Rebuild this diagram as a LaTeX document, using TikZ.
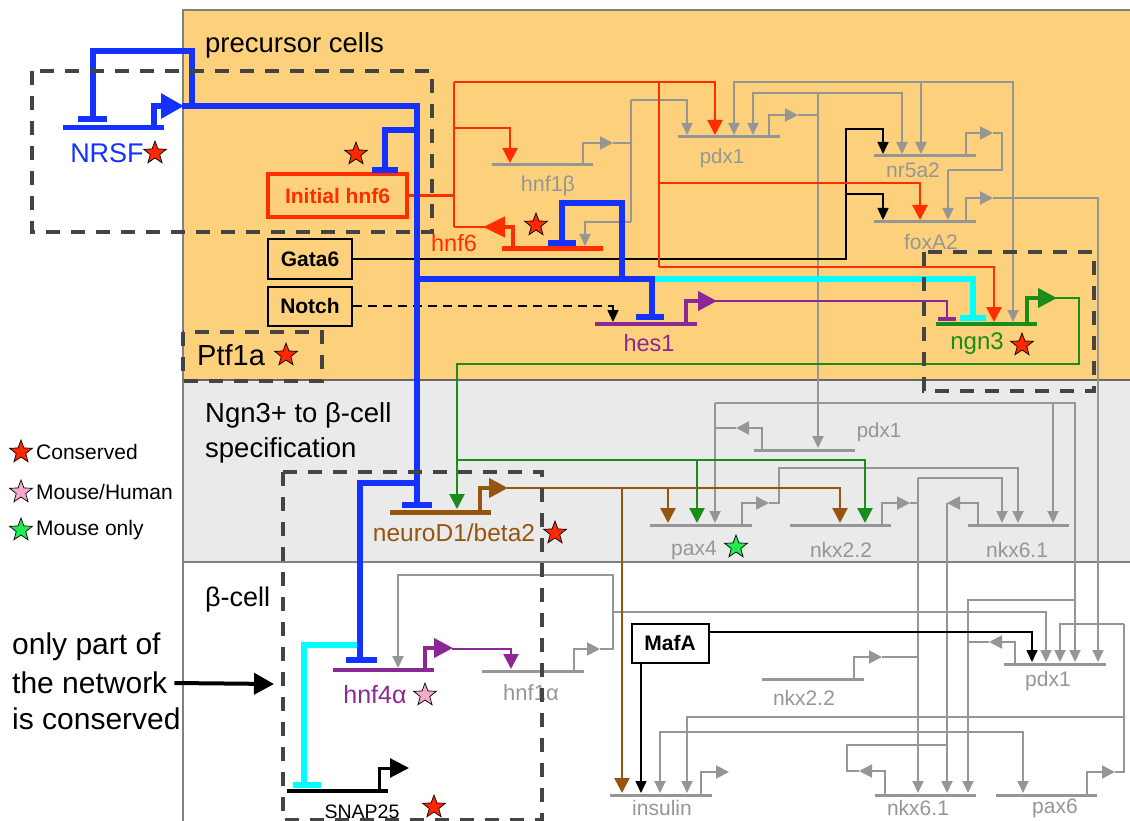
\documentclass[tikz,border=0pt]{standalone}
\usepackage{fontspec}
\setmainfont{Liberation Sans}
\usetikzlibrary{arrows.meta,shapes.geometric}
\definecolor{obg}{RGB}{253,209,124}
\definecolor{gbg}{RGB}{234,234,234}
\definecolor{nblue}{RGB}{20,50,255}
\definecolor{nred}{RGB}{255,45,0}
\definecolor{ngray}{RGB}{150,150,150}
\definecolor{npurple}{RGB}{140,40,150}
\definecolor{ngreen}{RGB}{25,140,25}
\definecolor{nbrown}{RGB}{150,85,15}
\definecolor{ncyan}{RGB}{0,255,255}
\definecolor{dashc}{RGB}{68,68,68}
\definecolor{starred}{RGB}{255,40,0}
\definecolor{starpink}{RGB}{245,170,205}
\definecolor{stargreen}{RGB}{30,235,80}
\tikzset{
  fsz/.style={font=\fontsize{#1}{#1}\selectfont},
  gline/.style={ngray, line width=2pt},
  gbar/.style={ngray, line width=3pt},
  garr/.style={-{Triangle[length=12pt,width=11pt]}},
  gprom/.style={-{Triangle[length=13pt,width=13pt]}},
  kline/.style={black, line width=1.6pt},
  karr/.style={-{Triangle[length=12pt,width=11pt]}},
  rline/.style={nred, line width=2.5pt},
  rarr/.style={-{Triangle[length=15pt,width=15pt]}},
  carr/.style={-{Triangle[length=15pt,width=15pt]}},
  bprom/.style={-{Triangle[length=19pt,width=19pt]}},
  gnline/.style={ngreen, line width=2.5pt},
  brline/.style={nbrown, line width=2.5pt},
  puline/.style={npurple, line width=2.5pt},
  cyline/.style={ncyan, line width=6pt},
  blline/.style={nblue, line width=6pt},
  dbox/.style={dashc, line width=4pt, dash pattern=on 14pt off 11pt},
  kbox/.style={draw=black, line width=2pt, inner sep=0pt, font=\bfseries\fontsize{21}{21}\selectfont},
  glab/.style={text=ngray, inner sep=0pt, fsz=21},
  mystar/.style={star, star points=5, star point ratio=2.4, draw=black, line width=0.7pt, fill=#1, minimum size=24pt, inner sep=0pt},
}
\begin{document}
\begin{tikzpicture}[x=1pt,y=-1pt]
\useasboundingbox (0,0) rectangle (1130,821);
% ---------- backgrounds
\fill[obg] (183,10) rectangle (1130,380);
\fill[gbg] (183,380) rectangle (1130,562);
\draw[gray, line width=1.2pt] (1130,10) -- (183,10) -- (183,821);
\draw[black!60, line width=1.5pt] (183,380) -- (1130,380);
\draw[gray, line width=1.5pt] (183,562) -- (1130,562);

% ---------- region titles
\node[fsz=27.5, anchor=west, inner sep=0pt] (tprec) at (205,45) {precursor cells};
\node[fsz=27.5, anchor=west, inner sep=0pt] (tngn) at (205,415) {Ngn3+ to β-cell};
\node[fsz=27.5, anchor=west, inner sep=0pt] (tspec) at (205,450) {specification};
\node[fsz=27, anchor=west, inner sep=0pt] (tbcell) at (205,600) {β-cell};
\node[fsz=30, anchor=west, inner sep=0pt] (tonly) at (12,647) {only part of};
\node[fsz=30, anchor=west, inner sep=0pt] (tnet) at (12,683) {the network};
\node[fsz=30, anchor=west, inner sep=0pt] (tcons) at (12,719) {is conserved};
\coordinate (arrend) at (274,684);
\draw[black, line width=4pt, -{Triangle[length=20pt,width=21pt]}] ([xshift=7pt]tnet.east) -- (arrend);

% ---------- legend
\node[mystar=starred] (s1) at (21,452) {};
\node[mystar=starpink] (s2) at (21,492) {};
\node[mystar=stargreen] (s3) at (21,530) {};
\node[fsz=21, anchor=west, inner sep=0pt] (l1) at (36,452) {Conserved};
\node[fsz=21, anchor=west, inner sep=0pt] (l2) at (36,492) {Mouse/Human};
\node[fsz=21, anchor=west, inner sep=0pt] (l3) at (36,530) {Mouse only};

% ---------- boxes
\node[kbox, draw=nred, line width=4pt, text=nred, minimum width=139pt, minimum height=43pt] (ihnf6) at (337.5,195.5) {Initial hnf6};
\node[kbox, minimum width=84pt, minimum height=39pt] (gata6) at (310,259) {Gata6};
\node[kbox, minimum width=84pt, minimum height=39pt] (notch) at (310,306) {Notch};
\node[kbox, fill=white, minimum width=77pt, minimum height=39pt] (mafa) at (670,643) {MafA};

% ---------- gray network
\draw[gline] (631,100) -- (631,222);
\draw[gline,garr] (631,100) -- (687,100) -- (687,135);
\draw[gline,garr] (631,222) -- (585,222) -- (585,246);
\draw[gline,gprom] (583,165) |- (613,143);
\draw[gline] (613,143) -- (631,143);
\draw[gline,gprom] (769,137) |- (798,115);
\draw[gline] (798,115) -- (818,115);
\draw[gline,garr] (818,93) -- (818,448);
\draw[gline,garr] (818,93) -- (753,93) -- (753,135);
\draw[gline,garr] (818,93) -- (902,93) -- (902,154);
\draw[gline,garr] (921,82) -- (734,82) -- (734,135);
\draw[gline,garr] (921,82) -- (921,154);
\draw[gline,garr] (921,82) -- (1013,82) -- (1013,322);
\draw[gline,gprom] (966,156) |- (993,133);
\draw[gline] (993,133) -- (1002,133) -- (1002,170) -- (948,170);
\draw[gline,garr] (948,170) -- (948,220);
\draw[gline,gprom] (966,222) |- (993,198);
\draw[gline,garr] (993,198) -- (1098,198) -- (1098,662);
% gray region
\draw[gline,gprom] (762,450) |- (736,428);
\draw[gline] (736,428) -- (715,428);
\draw[gline,garr] (715,403) -- (715,523);
\draw[gline,garr] (715,403) -- (1075,403) -- (1075,662);
\draw[gline,garr] (1053,403) -- (1053,523);
\draw[gline,gprom] (742,525) |- (769,503);
\draw[gline,garr] (769,503) -- (779,503) -- (779,468) -- (1018,468) -- (1018,523);
\draw[gline,gprom] (882,525) |- (910,503);
\draw[gline] (910,503) -- (918,503);
\draw[gline,garr] (918,478) -- (918,793);
\draw[gline,garr] (918,478) -- (1002,478) -- (1002,523);
\draw[gline,gprom] (978,525) |- (947,503);
\draw[gline,garr] (947,503) -- (947,793);
% beta region
\draw[gline,gprom] (574,671) |- (600,649);
\draw[gline,garr] (600,649) -- (613,649) -- (613,575) -- (398,575) -- (398,668);
\draw[gline,garr] (613,612) -- (1046,612) -- (1046,662);
\draw[gline,garr] (1075,600) -- (968,600) -- (968,793);
\draw[gline,gprom] (1015,664) |- (989,642);
\draw[gline] (989,642) -- (968,642);
\draw[gline,gprom] (854,679) |- (882,657);
\draw[gline] (882,657) -- (918,657);
\draw[gline,gprom] (885,795) |- (859,771);
\draw[gline] (859,771) -- (847,771) -- (847,745) -- (947,745);
\draw[gline,gprom] (1087,795) |- (1115,772);
\draw[gline] (1115,772) -- (1124,772) -- (1124,624);
\draw[gline,garr] (1124,624) -- (1060,624) -- (1060,662);
\draw[gline,garr] (1124,717) -- (687,717) -- (687,793);
\draw[gline,garr] (841,732) -- (660,732) -- (660,793);
\draw[gline,garr] (841,732) -- (1023,732) -- (1023,793);
\draw[gline,gprom] (701,795) |- (729,772);

% ---------- black
\draw[kline,karr] (gata6.east) -| (846,129) -- (883,129) -- (883,154);
\draw[kline,karr] (846,194) -- (883,194) -- (883,220);
\draw[kline,dash pattern=on 9pt off 6pt,karr] (notch.east) -| (613,322);
\draw[kline,karr] (641,663) -- (641,793);
\draw[kline,karr] (709,632) -- (1032,632) -- (1032,662);

% ---------- red
\draw[rline] (ihnf6.east) -- (454,195.5);
\draw[rline] (454,82) -- (454,227);
\draw[rline,rarr] (454,82) -- (715,82) -- (715,135);
\draw[rline,rarr] (454,128) -- (510,128) -- (510,163);
\draw[rline] (485,227) -- (454,227);
\draw[nred, line width=4pt, -{Triangle[length=22pt,width=20pt]}] (513,249) |- (483,227);
\draw[rline] (659,82) -- (659,267);
\draw[rline,rarr] (659,183) -- (920,183) -- (920,220);
\draw[rline,rarr] (659,267) -- (994,267) -- (994,322);

% ---------- green
\draw[ngreen, line width=4pt, bprom] (1027,324) |- (1057,298);
\draw[gnline,carr] (1055,298) -- (1079,298) -- (1079,364) -- (457,364) -- (457,509);
\draw[gnline,carr] (457,460) -- (865,460) -- (865,523);
\draw[gnline,carr] (697,460) -- (697,523);

% ---------- brown
\draw[nbrown, line width=4pt, bprom] (480,512) |- (508,488);
\draw[brline,carr] (507,488) -- (840,488) -- (840,523);
\draw[brline,carr] (668,488) -- (668,523);
\draw[brline,carr] (622,488) -- (622,793);

% ---------- purple
\draw[npurple, line width=4pt, bprom] (686,324) |- (717,301);
\draw[puline] (715,301) -- (947,301) -- (947,317);
\fill[npurple] (938,316.5) rectangle (956,320.5);
\draw[npurple, line width=4pt, bprom] (425,670) |- (453,648);
\draw[puline,carr] (452,649) -- (511,649) -- (511,669);

% ---------- cyan
\draw[cyline] (652,279) -- (973,279) -- (973,315);
\fill[ncyan] (960,315) rectangle (986,321);
\draw[cyline] (360,645) -- (304,645) -- (304,783);
\fill[ncyan] (293,782) rectangle (321,788);

% ---------- blue
\draw[blline] (93,116) -- (93,51) -- (192,51) -- (192,106);
\fill[nblue] (78,116) rectangle (107,122);
\draw[blline, -{Triangle[length=23pt,width=24pt]}] (154,128) |- (184,106);
\draw[blline] (182,106) -- (417,106) -- (417,502);
\fill[nblue] (402,502) rectangle (432,508);
\draw[blline] (417,130) -- (385,130) -- (385,167);
\fill[nblue] (372,167) rectangle (398,173);
\draw[blline] (417,279) -- (652,279) -- (652,314);
\fill[nblue] (636,314) rectangle (664,320);
\draw[blline] (622,279) -- (622,203) -- (562,203) -- (562,240);
\fill[nblue] (548,240) rectangle (576,246);
\draw[blline] (417,483) -- (360,483) -- (360,657);
\fill[nblue] (346,657) rectangle (377,663);

% ---------- gene bars
\draw[nblue, line width=5pt] (63,128) -- (164,128);
\draw[nred, line width=5pt] (502,249) -- (603,249);
\draw[gbar] (492,165) -- (593,165);
\draw[gbar] (678,137) -- (780,137);
\draw[gbar] (874,156) -- (976,156);
\draw[gbar] (874,222) -- (976,222);
\draw[npurple, line width=4pt] (595,324) -- (697,324);
\draw[ngreen, line width=4pt] (936,324) -- (1037,324);
\draw[nbrown, line width=5pt] (390,512) -- (491,512);
\draw[gbar] (754,450) -- (855,450);
\draw[gbar] (650,525) -- (752,525);
\draw[gbar] (790,525) -- (891,525);
\draw[gbar] (968,525) -- (1069,525);
\draw[npurple, line width=4pt] (333,670) -- (434,670);
\draw[gbar] (482,671) -- (584,671);
\draw[black, line width=4pt] (287,791) -- (388,791);
\draw[black, line width=3pt, bprom] (379,791) |- (409,768);
\draw[gbar] (610,795) -- (712,795);
\draw[gbar] (762,679) -- (864,679);
\draw[gbar] (1004,664) -- (1106,664);
\draw[gbar] (875,795) -- (976,795);
\draw[gbar] (996,795) -- (1097,795);

% ---------- gene labels
\node[glab, text=nblue, fsz=27] (gNRSF) at (107,153) {NRSF};
\node[glab, fsz=21.5] (ghnf1b) at (548,186) {hnf1β};
\node[glab, fsz=20.5] (gpdx1a) at (722,158) {pdx1};
\node[glab] (gnr5a2) at (913,170) {nr5a2};
\node[glab] (gfoxa2) at (931,242) {foxA2};
\node[glab, text=nred, fsz=23.5] (ghnf6) at (454,243) {hnf6};
\node[glab, text=npurple, fsz=23.5] (ghes1) at (649,343) {hes1};
\node[glab, text=ngreen, fsz=24] (gngn3) at (977,344) {ngn3};
\node[glab, text=nbrown, fsz=24.5] (gneurod) at (454,533) {neuroD1/beta2};
\node[glab, fsz=20.5] (gpdx1b) at (879,432) {pdx1};
\node[glab] (gpax4) at (694,550) {pax4};
\node[glab] (gnkx22a) at (841,550) {nkx2.2};
\node[glab] (gnkx61a) at (1017,550) {nkx6.1};
\node[glab, text=npurple, fsz=25] (ghnf4a) at (375,695) {hnf4α};
\node[glab, fsz=22] (ghnf1a) at (531,693) {hnf1α};
\node[glab, text=black, fsz=19.5] (gsnap) at (362,812) {SNAP25};
\node[glab] (ginsulin) at (662,808) {insulin};
\node[glab] (gnkx22b) at (804,698) {nkx2.2};
\node[glab] (gpdx1c) at (1048,681) {pdx1};
\node[glab] (gnkx61b) at (918,808) {nkx6.1};
\node[glab] (gpax6) at (1055,808) {pax6};
\node[fsz=29, anchor=west, inner sep=0pt] (tptf) at (197,355) {Ptf1a};

% ---------- stars
\node[mystar=starred] (st1) at (155,153) {};
\node[mystar=starred] (st2) at (356,154) {};
\node[mystar=starred] (st3) at (536,225) {};
\node[mystar=starred] (st4) at (286,355) {};
\node[mystar=starred] (st5) at (1022,345) {};
\node[mystar=starred] (st6) at (555,533) {};
\node[mystar=stargreen] (st7) at (736,547) {};
\node[mystar=starpink] (st8) at (425,695) {};
\node[mystar=starred] (st9) at (434,807) {};

% ---------- dashed boxes
\draw[dbox] (32,71) rectangle (432,232);
\draw[dbox] (183,332) rectangle (322,381);
\draw[dbox] (924,252) rectangle (1094,391);
\draw[dbox] (283,472) rectangle (542,820);
\end{tikzpicture}
\end{document}
